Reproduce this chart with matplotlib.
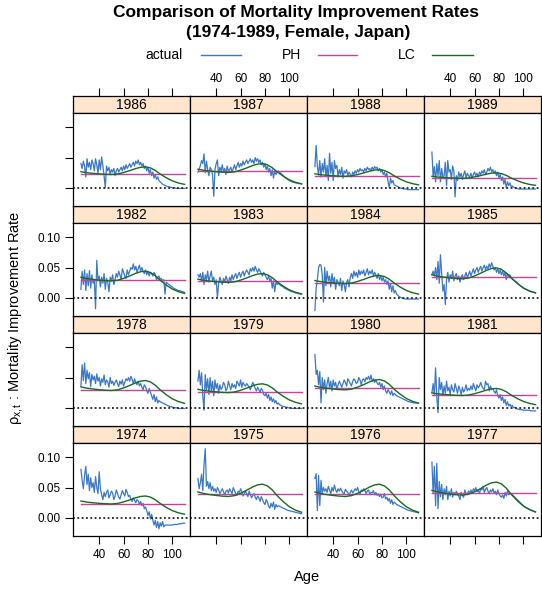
import numpy as np
import matplotlib
matplotlib.use('Agg')
import matplotlib.pyplot as plt
from matplotlib.lines import Line2D

plt.rcParams['font.family'] = ['Liberation Sans', 'DejaVu Sans']
plt.rcParams['mathtext.fontset'] = 'custom'
plt.rcParams['mathtext.rm'] = 'Liberation Sans'
plt.rcParams['mathtext.it'] = 'Liberation Sans'

# ages 25..110, actual improvement rates in per mille
ages = np.arange(25, 111)

act_1974 = [80, 62, 48, 70, 85, 55, 72, 45, 66, 50,
            58, 42, 68, 50, 40, 76, 48, 38, 30, 42,
            35, 42, 46, 33, 38, 44, 41, 30, 36, 46,
            40, 34, 31, 38, 45, 40, 36, 47, 42, 35,
            37, 31, 27, 33, 29, 25, 30, 28, 22, 27,
            20, 24, 15, 18, 12, 4, 10, -2, 6, -4,
            -12, -4, -16, -6, -18, -8, -14, -6, -15, -12,
            -12, -12, -12, -12, -12, -12, -11, -11, -11, -11,
            -10, -10, -10, -9, -9, -9]
act_1975 = [65, 48, 58, 72, 45, 88, 114, 52, 60, 48,
            58, 45, 52, 44, 48, 42, 50, 46, 40, 44,
            48, 43, 38, 44, 46, 41, 48, 44, 40, 50,
            45, 40, 37, 44, 42, 48, 43, 36, 40, 44,
            40, 35, 44, 39, 33, 37, 40, 34, 30, 36,
            33, 27, 35, 30, 25, 22, 30, 26, 19, 16,
            24, 18, 26, 14, 22, 18, 20, 19, 18, 17,
            16, 15, 14, 13, 12, 12, 11, 11, 10, 10,
            9, 9, 8, 8, 7, 7]
act_1976 = [65, 73, 12, 70, 20, 62, 40, 50, 44, 48,
            42, 52, 46, 40, 50, 44, 54, 46, 42, 48,
            44, 49, 45, 41, 40, 47, 44, 42, 37, 42,
            46, 41, 44, 48, 45, 50, 43, 39, 46, 44,
            48, 45, 40, 44, 46, 39, 42, 41, 45, 38,
            42, 37, 40, 35, 39, 33, 34, 40, 31, 34,
            28, 32, 24, 30, 22, 26, 24, 22, 21, 20,
            19, 18, 17, 16, 15, 14, 13, 12, 12, 11,
            11, 10, 10, 9, 9, 8]
act_1977 = [92, 40, 85, 20, 90, 15, 60, 35, 55, 30,
            48, 38, 52, 30, 44, 36, 48, 34, 42, 38,
            44, 40, 36, 30, 42, 37, 34, 46, 40, 38,
            44, 41, 46, 40, 48, 45, 50, 43, 46, 40,
            48, 46, 52, 42, 47, 50, 44, 40, 46, 43,
            48, 41, 44, 38, 46, 40, 36, 34, 38, 32,
            42, 36, 44, 38, 40, 40, 38, 36, 34, 32,
            30, 28, 26, 24, 22, 20, 18, 17, 16, 15,
            14, 13, 12, 11, 10, 10]
act_1978 = [36, 71, 45, 74, 40, 62, 48, 58, 35, 55,
            46, 52, 40, 56, 44, 50, 36, 48, 42, 54,
            38, 46, 43, 34, 50, 40, 44, 37, 42, 46,
            40, 35, 44, 39, 46, 36, 42, 48, 45, 50,
            44, 52, 47, 40, 48, 42, 38, 44, 36, 40,
            34, 30, 38, 35, 28, 24, 32, 26, 20, 14,
            22, 10, 18, 8, 12, 10, 9, 8, 7, 6,
            5, 4, 3, 2, 2, 1, 1, 0, 0, 0,
            -1, -1, -1, -1, -1, -1]
act_1979 = [44, 62, 38, 58, 20, -4, 55, 30, 48, 22,
            50, 28, 44, 20, 46, 32, 40, 24, 38, 30,
            34, 42, 38, 28, 32, 44, 36, 30, 40, 34,
            38, 32, 44, 40, 36, 46, 34, 42, 38, 36,
            40, 37, 34, 30, 36, 42, 38, 32, 28, 34,
            30, 26, 32, 29, 22, 20, 24, 16, 22, 12,
            18, 10, 15, 8, 12, 6, 8, 5, 4, 3,
            2, 2, 1, 1, 0, 0, 0, -1, -1, -1,
            -1, -1, -1, -1, -1, -1]
act_1980 = [88, 55, 62, 38, 60, 8, 50, 30, 46, 24,
            40, 50, 32, 44, 28, 46, 36, 42, 30, 38,
            44, 39, 34, 40, 46, 42, 36, 48, 44, 40,
            36, 44, 48, 45, 40, 42, 50, 46, 38, 46,
            48, 43, 50, 47, 52, 46, 54, 44, 48, 42,
            46, 41, 38, 42, 34, 40, 30, 36, 28, 24,
            30, 26, 22, 28, 20, 24, 22, 20, 19, 18,
            17, 16, 15, 14, 13, 12, 11, 10, 10, 9,
            9, 8, 8, 8, 8, 8]
act_1981 = [25, 40, 20, 66, 18, -8, 50, 30, 42, 20,
            36, 24, 44, 28, 34, 22, 38, 30, 26, 40,
            32, 24, 36, 30, 22, 34, 26, 30, 38, 28,
            32, 29, 36, 30, 40, 34, 28, 38, 33, 36,
            42, 36, 32, 30, 44, 38, 40, 28, 36, 30,
            32, 27, 24, 30, 20, 16, 22, 12, 18, 8,
            14, 4, 10, 3, 6, 2, 4, 0, 1, -1,
            -2, -2, -3, -3, -3, -4, -4, -4, -4, -4,
            -4, -5, -5, -5, -5, -5]
act_1982 = [14, 44, 22, 46, 12, 40, 20, 45, 16, 38,
            24, 30, -18, 62, 28, 36, 18, 34, 24, 40,
            14, 32, 26, 10, 34, 28, 38, 22, 30, 40,
            34, 44, 38, 30, 48, 42, 36, 32, 46, 38,
            44, 50, 47, 56, 46, 52, 42, 48, 54, 44,
            50, 44, 40, 46, 38, 44, 36, 42, 40, 36,
            42, 38, 30, 34, 36, 30, 32, 28, 30, 6,
            26, 24, 22, 21, 19, 18, 16, 15, 14, 13,
            12, 12, 11, 10, 10, 9]
act_1983 = [38, 34, 40, 28, 42, 22, 38, 30, 44, 26,
            36, 44, 28, 34, 22, 30, 0, 24, 34, 28,
            22, 32, 26, 36, 30, 24, 34, 28, 38, 30,
            36, 40, 32, 38, 42, 34, 40, 44, 36, 42,
            46, 42, 38, 48, 44, 50, 44, 52, 46, 42,
            48, 44, 40, 36, 42, 38, 34, 30, 36, 28,
            32, 16, 28, 10, 26, 22, 24, 22, 20, 19,
            18, 16, 15, 14, 13, 12, 11, 10, 10, 9,
            8, 8, 7, 7, 6, 6]
act_1984 = [-21, 16, 30, 50, 55, 54, 38, -7, 50, 20,
            44, 28, 36, 18, 40, 24, 34, 14, 30, 26,
            20, 32, 12, 28, 22, 10, 26, 30, 18, 34,
            40, 32, 44, 36, 42, 34, 46, 38, 44, 40,
            46, 36, 42, 48, 38, 44, 40, 46, 36, 42,
            38, 32, 40, 30, 36, 28, 34, 26, 30, 22,
            28, 14, 24, 10, 20, 8, 12, 6, 4, 2,
            1, 0, -1, -1, -2, -2, -2, -2, -2, -2,
            -2, -2, -2, -2, -2, -2]
act_1985 = [38, 44, 36, 50, 30, 60, 24, 71, 40, 11,
            22, -11, 30, 42, 26, 38, 32, 44, 28, 36,
            40, 30, 36, 26, 34, 38, 30, 36, 42, 34,
            38, 44, 36, 42, 48, 40, 46, 50, 42, 48,
            52, 44, 50, 54, 46, 52, 48, 56, 50, 58,
            52, 46, 50, 42, 48, 40, 46, 38, 44, 36,
            42, 30, 40, 36, 38, 34, 32, 30, 28, 27,
            25, 23, 21, 19, 18, 16, 15, 14, 13, 12,
            11, 10, 10, 9, 9, 8]
act_1986 = [40, 32, 44, 36, 18, 48, 34, 42, 30, 46,
            40, 28, 48, 38, 24, 46, 30, 51, 36, 20,
            0, 36, 28, 34, 22, 30, 26, 32, 20, 28,
            32, 26, 30, 34, 28, 36, 30, 38, 32, 36,
            40, 34, 38, 42, 36, 44, 40, 46, 38, 42,
            36, 40, 32, 36, 28, 34, 24, 30, 20, 26,
            16, 22, 14, 18, 12, 10, 8, 6, 5, 4,
            3, 2, 2, 1, 1, 0, 0, 0, -1, -1,
            -1, -1, -1, -1, -1, -1]
act_1987 = [26, 30, 37, 45, 40, 56, 25, 44, 30, 20,
            34, 30, 22, -14, 30, 40, 46, 20, 34, 28,
            38, 26, 32, 22, 36, 28, 30, 34, 26, 32,
            38, 30, 36, 42, 34, 40, 36, 44, 38, 42,
            46, 40, 44, 48, 42, 46, 40, 50, 44, 48,
            42, 46, 38, 42, 34, 40, 30, 36, 26, 32,
            20, 30, 16, 28, 22, 26, 28, 26, 24, 22,
            20, 18, 16, 15, 13, 12, 11, 10, 9, 9,
            8, 8, 7, 7, 7, 6]
act_1988 = [35, 70, 35, 21, 45, 18, 40, 26, 48, 18,
            37, 12, 57, 24, 42, 12, 45, 32, 37, 18,
            30, 22, 34, 16, 28, 24, 30, 20, 26, 22,
            18, 26, 22, 28, 24, 30, 26, 32, 28, 30,
            26, 32, 28, 34, 30, 32, 28, 34, 30, 35,
            32, 34, 28, 32, 26, 30, 22, 26, 18, 24,
            10, 0, 16, 8, 12, 5, 4, 3, 2, 1,
            0, -1, -1, -2, -2, -2, -3, -3, -3, -3,
            -3, -3, -3, -3, -3, -3]
act_1989 = [59, 18, 35, 10, 40, 20, 45, 10, 32, 18,
            20, 42, 4, 45, 26, 30, 14, 36, 28, -15,
            20, 12, 26, 18, 24, 14, 22, 28, 16, 24,
            20, 18, 24, 16, 22, 26, 20, 24, 18, 26,
            22, 28, 24, 30, 22, 26, 32, 28, 34, 26,
            30, 24, 28, 20, 26, 16, 22, 12, 18, 6,
            14, 0, 10, 4, 8, 2, 3, 1, 0, -1,
            -1, -2, -2, -2, -2, -2, -2, -2, -2, -2,
            -2, -2, -2, -2, -2, -2]

years = list(range(1974, 1990))
actual = [act_1974, act_1975, act_1976, act_1977, act_1978, act_1979,
          act_1980, act_1981, act_1982, act_1983, act_1984, act_1985,
          act_1986, act_1987, act_1988, act_1989]

# PH: one constant rate per year (per mille)
ph_rate = [23.6, 39.0, 39.0, 40.5, 30.0, 26.0, 33.0, 21.4,
           30.0, 27.0, 24.0, 34.0, 23.6, 27.5, 19.8, 16.0]

# LC: common age profile b_x (peak = 1) times a yearly level (per mille)
lc_ages = [25, 30, 35, 40, 45, 50, 55, 60, 65, 70, 74, 78, 82, 86, 90,
           95, 100, 105, 110]
lc_shape = [0.77, 0.72, 0.69, 0.665, 0.645, 0.635, 0.66, 0.73, 0.82, 0.92,
            0.98, 1.0, 0.95, 0.83, 0.66, 0.48, 0.33, 0.23, 0.165]
lc_peak = [36.0, 55.5, 55.5, 59.0, 45.0, 39.6, 46.7, 32.0,
           44.0, 40.0, 37.0, 49.5, 34.6, 40.0, 30.0, 24.7]

col_actual = '#3A78C9'
col_ph = '#C2449E'
col_lc = '#1A6A22'
strip_bg = '#FFE5CC'

W, H = 542, 590
fig = plt.figure(figsize=(W / 100, H / 100), dpi=100)

xlim = (18.5, 114.5)
ylim = (-0.030, 0.1235)
xt = [40, 60, 80, 100]
yt = [0.0, 0.05, 0.10]

for i, year in enumerate(years):
    r = 3 - i // 4
    c = i % 4
    top = 96 + 110 * r
    left = 73 + 117 * c

    strip = fig.add_axes([left / W, 1 - (top + 17) / H, 117 / W, 17 / H])
    ax = fig.add_axes([left / W, 1 - (top + 110) / H, 117 / W, 93 / H])

    strip.set_facecolor(strip_bg)
    strip.set_xlim(xlim)
    strip.set_ylim(0, 1)
    strip.set_yticks([])
    strip.text(0.5, 0.45, str(year), transform=strip.transAxes,
               ha='center', va='center', fontsize=10)
    if r == 0:
        strip.set_xticks(xt)
        strip.tick_params(axis='x', top=True, bottom=False,
                          labeltop=(c % 2 == 1), labelbottom=False,
                          direction='out', length=6, width=0.8,
                          labelsize=8.5, pad=2)
    else:
        strip.set_xticks([])
    for s in strip.spines.values():
        s.set_linewidth(0.9)

    y_act = np.array(actual[i]) / 1000
    ax.plot(ages, y_act, color=col_actual, lw=0.9)
    ax.plot([ages[0], ages[-1]], [ph_rate[i] / 1000] * 2, color=col_ph, lw=1.0)
    ax.plot(lc_ages, np.array(lc_shape) * lc_peak[i] / 1000,
            color=col_lc, lw=1.0)
    ax.axhline(0, color='#222222', lw=1.3, ls=(0, (1, 1.4)))

    ax.set_xlim(xlim)
    ax.set_ylim(ylim)
    ax.set_xticks(xt)
    ax.set_yticks(yt)
    ax.set_yticklabels(['0.00', '0.05', '0.10'])
    ax.tick_params(axis='x', bottom=(r == 3), top=False,
                   labelbottom=(r == 3 and c % 2 == 0),
                   direction='out', length=6, width=0.8, labelsize=8.5, pad=3)
    ax.tick_params(axis='y', left=(c == 0), right=False,
                   labelleft=(c == 0 and r % 2 == 1),
                   direction='out', length=6, width=0.8, labelsize=8.5, pad=3)
    for s in ax.spines.values():
        s.set_linewidth(0.9)

# title and legend
fig.text(296 / W, 1 - 13 / H, 'Comparison of Mortality Improvement Rates',
         ha='center', va='center', fontsize=12.5, fontweight='bold')
fig.text(298 / W, 1 - 33 / H, '(1974-1989, Female, Japan)',
         ha='center', va='center', fontsize=12.5, fontweight='bold')

legend_items = [('actual', 183, 201, 241, col_actual),
                ('PH', 301, 318, 357, col_ph),
                ('LC', 416, 432, 473, col_lc)]
for label, tx, x0, x1, col in legend_items:
    fig.text(tx / W, 1 - 55 / H, label, ha='right', va='center', fontsize=10)
    fig.add_artist(Line2D([x0 / W, x1 / W], [1 - 55 / H, 1 - 55 / H],
                          transform=fig.transFigure, color=col, lw=1.0))

fig.text(16 / W, 1 - 318 / H, r'$\rho_{x,t}$ : Mortality Improvement Rate',
         rotation=90, ha='center', va='center', fontsize=10.5)
fig.text(307 / W, 1 - 577 / H, 'Age', ha='center', va='center', fontsize=10.5)

fig.savefig('out.png', dpi=100)
